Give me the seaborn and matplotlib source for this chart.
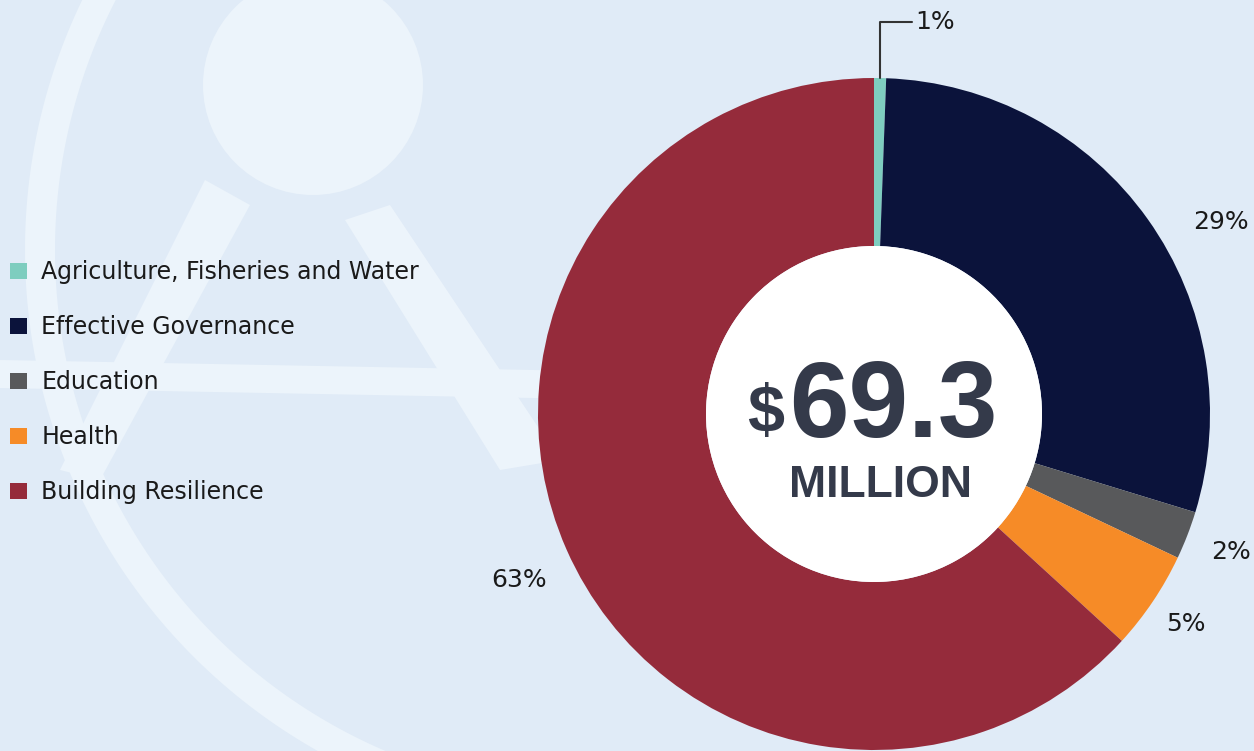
import matplotlib
matplotlib.use("Agg")
import matplotlib.pyplot as plt
import seaborn as sns
import numpy as np
from matplotlib.patches import Circle, Polygon

# ---- data ----
categories = ["Agriculture, Fisheries and Water", "Effective Governance",
              "Education", "Health", "Building Resilience"]
values = [0.4, 20.2, 1.6, 3.3, 43.8]          # US$ million
pct_labels = ["1%", "29%", "2%", "5%", "63%"]
colors = ["#7ecdbf", "#0b133b", "#58595b", "#f68b27", "#952b3b"]
total_amount = "69.3"
total_unit = "MILLION"

sns.set_theme(style="white")
plt.rcParams['font.family'] = ['DejaVu Sans']

W, H = 1254, 751
fig = plt.figure(figsize=(W / 100, H / 100), dpi=100)
bg = "#e0ebf7"
light = "#ecf4fb"
fig.patch.set_facecolor(bg)
ax = fig.add_axes([0, 0, 1, 1])
ax.set_facecolor(bg)

# ---- decorative watermark background ----
ax.add_patch(Circle((313, H - 85), 110, color=light, zorder=0, lw=0))
ax.add_patch(Polygon([(0, H - 360), (640, H - 372), (640, H - 400), (0, H - 388)],
                     closed=True, color=light, zorder=0, lw=0))
ax.add_patch(Polygon([(205, H - 180), (250, H - 205), (100, H - 480), (60, H - 470)],
                     closed=True, color=light, zorder=0, lw=0))
ax.add_patch(Polygon([(345, H - 220), (390, H - 205), (560, H - 460), (500, H - 470)],
                     closed=True, color=light, zorder=0, lw=0))
theta = np.linspace(np.pi * 0.55, np.pi * 1.45, 200)
cx, cy, r1, r2 = 600, H - 250, 575, 545
outer = np.c_[cx + r1 * np.cos(theta), cy + r1 * np.sin(theta)]
inner = np.c_[cx + r2 * np.cos(theta[::-1]), cy + r2 * np.sin(theta[::-1])]
ax.add_patch(Polygon(np.vstack([outer, inner]), closed=True, color=light, zorder=0, lw=0))

# ---- donut ----
center = (874, H - 414)
R = 336
wedges, _ = ax.pie(values, colors=colors, startangle=90, counterclock=False,
                   center=center, radius=R,
                   wedgeprops=dict(width=R / 2, linewidth=0))
ax.add_patch(Circle(center, R / 2, color="white", zorder=3, lw=0))

ax.set_xlim(0, W)
ax.set_ylim(0, H)
ax.set_aspect("equal")
ax.set_axis_off()

# ---- percentage labels ----
dists = [None, 1.18, 1.14, 1.12, 1.165]
angle_shift = [0, -6.5, 0, 0, 1.3]
for i, w in enumerate(wedges):
    mid = np.deg2rad((w.theta1 + w.theta2) / 2 + angle_shift[i])
    if i == 0:
        xy = (center[0] + R * np.cos(mid), center[1] + R * np.sin(mid))
        ax.annotate(pct_labels[i], xy=xy, xytext=(915, H - 22),
                    ha="left", va="center", fontsize=18, color="#1a1a1a",
                    arrowprops=dict(arrowstyle="-", color="#333333", lw=1.5,
                                    shrinkA=0, shrinkB=0,
                                    connectionstyle="angle,angleA=0,angleB=90,rad=0"),
                    zorder=5)
    else:
        d = dists[i] * R
        ax.text(center[0] + d * np.cos(mid), center[1] + d * np.sin(mid),
                pct_labels[i], ha="center", va="center", fontsize=18,
                color="#1a1a1a", zorder=5)

# ---- center text ----
txt_col = "#343a4a"
ax.text(893, H - 437, total_amount, ha="center", va="baseline", fontsize=77,
        fontweight="heavy", color=txt_col, family=["Liberation Sans", "DejaVu Sans"], zorder=6)
ax.text(784, H - 432, "$", ha="right", va="baseline", fontsize=48,
        fontweight="heavy", color=txt_col, family=["Liberation Sans", "DejaVu Sans"], zorder=6)
ax.text(880, H - 497, total_unit, ha="center", va="baseline", fontsize=32,
        fontweight="bold", color=txt_col,
        family=["Liberation Sans Narrow", "Liberation Sans", "DejaVu Sans"], zorder=6)

# ---- legend ----
leg = ax.legend(wedges, categories, loc="upper left",
                bbox_to_anchor=(1 / W, (H - 251) / H), frameon=False,
                fontsize=17, handlelength=0.68, handleheight=0.68,
                handletextpad=0.62, labelspacing=1.31, borderaxespad=0)
for t in leg.get_texts():
    t.set_color("#1a1a1a")

fig.savefig("out.png", dpi=100, facecolor=fig.get_facecolor())
